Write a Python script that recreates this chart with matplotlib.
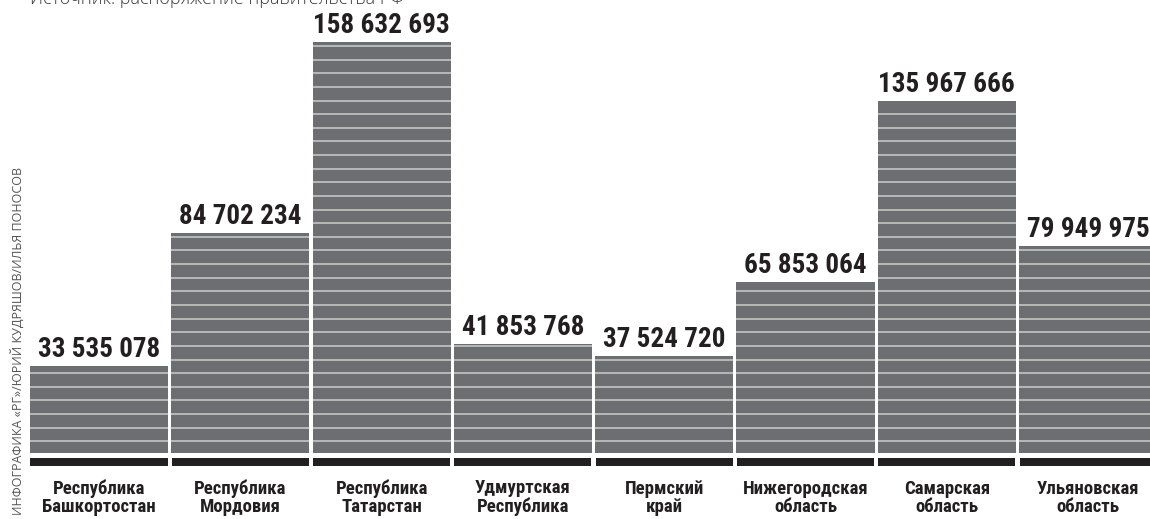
"""Striped bar chart: subsidies to Volga regions (RG infographic style)."""
import numpy as np
import matplotlib
matplotlib.use('Agg')
import matplotlib.pyplot as plt
from matplotlib import font_manager
from matplotlib.font_manager import FontProperties

# Data
regions = ['Республика\nБашкортостан', 'Республика\nМордовия', 'Республика\nТатарстан',
           'Удмуртская\nРеспублика', 'Пермский\nкрай', 'Нижегородская\nобласть',
           'Самарская\nобласть', 'Ульяновская\nобласть']
amounts = [33535078, 84702234, 158632693, 41853768, 37524720,
           65853064, 135967666, 79949975]
source = 'Источник: распоряжение правительства РФ'
credit = 'ИНФОГРАФИКА «РГ»/ЮРИЙ КУДРЯШОВ/ИЛЬЯ ПОНОСОВ'

# Style
BAR_COLOR = '#6d6e71'
STRIPE_COLOR = '#c9c9c9'
BASE_COLOR = '#231f20'
TEXT_COLOR = '#231f20'

installed = {f.name for f in font_manager.fontManager.ttflist}
LIGHT = 'Open Sans' if 'Open Sans' in installed else 'DejaVu Sans'


def _weight(w):
    if isinstance(w, str):
        return font_manager.weight_dict.get(w, 400)
    return int(w)


def condensed_bold():
    """Find a bold condensed face among installed fonts, else plain bold."""
    prefs = ['Roboto', 'Noto Sans', 'Open Sans', 'Liberation', 'DejaVu']
    cands = [f for f in font_manager.fontManager.ttflist
             if f.stretch in ('condensed', 'semi-condensed')
             and 600 <= _weight(f.weight) <= 800
             and f.style == 'normal' and 'Mono' not in f.name
             and 'CJK' not in f.name]
    for p in prefs:
        for f in cands:
            if f.name.startswith(p):
                return FontProperties(fname=f.fname)
    if cands:
        return FontProperties(fname=cands[0].fname)
    return FontProperties(family='DejaVu Sans', weight='bold')


NARROW = condensed_bold()

W, H = 1150, 519
fig = plt.figure(figsize=(W / 100, H / 100), dpi=100)
ax = fig.add_axes([0, 0, 1, 1])
renderer = fig.canvas.get_renderer()


def fit_size(text, target_px, start=20):
    """Font size (pt) that makes `text` about target_px wide."""
    t = fig.text(0, 0, text, fontproperties=NARROW, fontsize=start)
    w = t.get_window_extent(renderer).width
    t.remove()
    return start * target_px / w


VALUE_SIZE = min(fit_size('158 632 693', 136), 22)
LABEL_SIZE = min(fit_size('Башкортостан', 114), 16)

ppu = 410.7 / 158.632693e6      # pixels per rouble
zero_px = 452.7                 # baseline row
pitch, first_center = 141.3, 99.0

ax.set_ylim(-(H - zero_px) / ppu, zero_px / ppu)
ax.set_xlim(-first_center / pitch, (W - first_center) / pitch)
ax.axis('off')

x = np.arange(len(amounts))
bar_w = 0.978
ax.bar(x, amounts, width=bar_w, color=BAR_COLOR, linewidth=0)

# horizontal light stripes at fixed spacing from the baseline
step = 13.63 / ppu
first = 11.4 / ppu
for xi, v in zip(x, amounts):
    ys = np.arange(first, v, step)
    ax.hlines(ys, xi - bar_w / 2, xi + bar_w / 2, colors=STRIPE_COLOR,
              linewidth=1.15, capstyle='butt')

# black base strip under each bar
ax.bar(x, 8.3 / ppu, bottom=-13.5 / ppu, width=0.97, color=BASE_COLOR, linewidth=0)

for xi, v, name in zip(x, amounts, regions):
    ax.annotate(f'{v:,}'.replace(',', ' '), (xi, v), xytext=(0, 9),
                textcoords='offset pixels', ha='center', va='baseline',
                fontproperties=NARROW, fontsize=VALUE_SIZE, color=TEXT_COLOR)
    # va='baseline' pins the last line's baseline
    ax.annotate(name, (xi, 0), xytext=(0, -(512.5 - zero_px)),
                textcoords='offset pixels', ha='center', va='baseline',
                fontproperties=NARROW, fontsize=LABEL_SIZE,
                color=TEXT_COLOR, linespacing=1.05)

fig.text(30 / W, 1 - 4 / H, source, ha='left', va='baseline', fontsize=13,
         family=LIGHT, fontweight='light', color='#3a3a3a')
fig.text(18 / W, 4 / H, credit, rotation=90, ha='center', va='bottom',
         fontsize=9, family=LIGHT, color='#555555')

fig.savefig('out.png', dpi=100)
plt.close(fig)
